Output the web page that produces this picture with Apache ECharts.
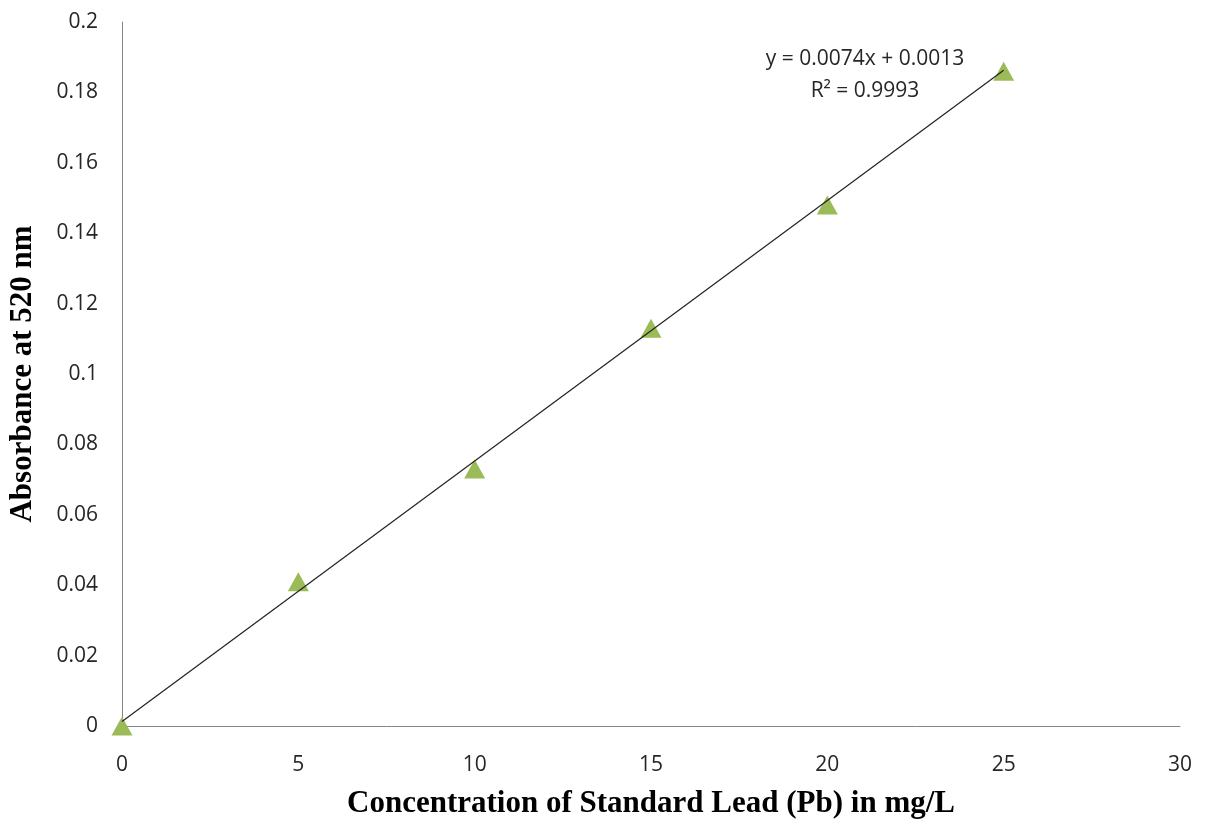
<!DOCTYPE html>
<html>
<head>
<meta charset="utf-8">
<script src="https://cdn.jsdelivr.net/npm/echarts@6/dist/echarts.min.js"></script>
<style>
  html, body { margin: 0; padding: 0; background: #fff; }
  #main { width: 1210px; height: 827px; }
</style>
</head>
<body>
<div id="main"></div>
<script>
// standard lead calibration
var concentration = [0, 5, 10, 15, 20, 25];
var absorbance = [0, 0.041, 0.073, 0.113, 0.148, 0.186];
// linear trend from the chart
var slope = 0.0074;
var intercept = 0.0013;
var trendX = [0, 25];
var xTicks = [0, 30, 5];
var yTicks = [0, 0.2, 0.02];

var chart = echarts.init(document.getElementById('main'));

var points = concentration.map(function (x, i) { return [x, absorbance[i]]; });
var trend = trendX.map(function (x) { return [x, slope * x + intercept]; });

var labelFont = '"Open Sans", "Noto Sans", sans-serif';
var titleFont = '"Liberation Serif", "Times New Roman", serif';

var option = {
  animation: false,
  grid: { left: 122, right: 30, top: 22, bottom: 101, outerBoundsMode: 'none', containLabel: false },
  xAxis: {
    type: 'value',
    min: xTicks[0], max: xTicks[1], interval: xTicks[2],
    name: 'Concentration of Standard Lead (Pb) in mg/L',
    nameLocation: 'middle',
    nameGap: 62,
    nameTextStyle: { fontFamily: titleFont, fontWeight: 'bold', fontSize: 31, color: '#000' },
    axisLine: { lineStyle: { color: '#868686', width: 1 } },
    axisTick: { show: false },
    splitLine: { show: false },
    axisLabel: { fontFamily: labelFont, fontSize: 21, color: '#262626', margin: 29 }
  },
  yAxis: {
    type: 'value',
    min: yTicks[0], max: yTicks[1], interval: yTicks[2],
    name: 'Absorbance at 520 nm',
    nameLocation: 'middle',
    nameGap: 84,
    nameTextStyle: { fontFamily: titleFont, fontWeight: 'bold', fontSize: 31, color: '#000' },
    axisLine: { show: true, lineStyle: { color: '#868686', width: 1 } },
    axisTick: { show: false },
    splitLine: { show: false },
    axisLabel: {
      fontFamily: labelFont, fontSize: 21, color: '#262626', margin: 24,
      formatter: function (v) { return String(+v.toFixed(2)); }
    }
  },
  series: [
    {
      type: 'line',
      data: trend,
      symbol: 'none',
      lineStyle: { color: '#222', width: 1.2 },
      z: 3
    },
    {
      type: 'scatter',
      data: points,
      symbol: 'triangle',
      symbolSize: [21, 19],
      itemStyle: { color: '#9bbb59', opacity: 1 },
      z: 2
    }
  ],
  graphic: [
    {
      type: 'text',
      x: 865, y: 43,
      style: {
        text: 'y = 0.0074x + 0.0013\nR² = 0.9993',
        align: 'center',
        verticalAlign: 'top',
        fontFamily: labelFont,
        fontSize: 21,
        lineHeight: 32,
        fill: '#262626'
      }
    }
  ]
};

chart.setOption(option);
</script>
</body>
</html>
